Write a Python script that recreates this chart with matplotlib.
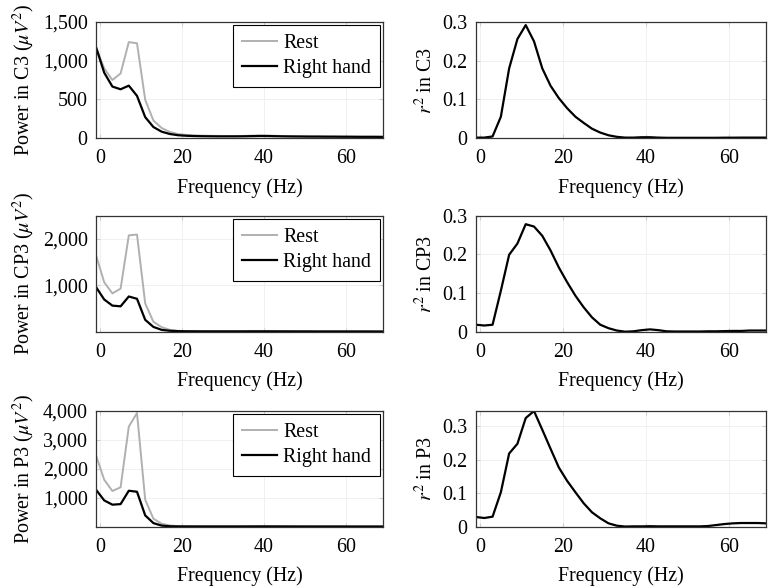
import matplotlib
matplotlib.use("Agg")
import matplotlib.pyplot as plt
from matplotlib.ticker import FuncFormatter

plt.rcParams['font.family'] = ['Liberation Serif', 'DejaVu Serif']
plt.rcParams['mathtext.fontset'] = 'stix'
plt.rcParams['font.size'] = 14.4

freqs = [-1, 1, 3, 5, 7, 9, 11, 13, 15, 17, 19, 21, 23, 25, 27, 29, 31, 33,
         35, 37, 39, 41, 43, 45, 47, 49, 51, 53, 55, 57, 59, 61, 63, 65, 67, 69]

c3_rest = [1175, 900, 750, 835, 1240, 1225, 495, 227, 130, 78, 52, 40, 34, 30, 28, 27, 26, 26,
           27, 30, 33, 32, 28, 25, 23, 22, 21, 20, 20, 19, 19, 18, 18, 17, 17, 16]
c3_hand = [1175, 845, 665, 630, 677, 545, 270, 142, 82, 52, 36, 29, 25, 23, 22, 21, 21, 21,
           22, 24, 26, 25, 23, 21, 20, 19, 18, 18, 17, 17, 16, 16, 15, 15, 15, 14]
cp3_rest = [1650, 1065, 825, 928, 2076, 2094, 610, 215, 98, 40, 18, 12, 10, 9, 8, 8, 8, 8,
            8, 9, 10, 10, 9, 8, 7, 7, 7, 6, 6, 6, 6, 6, 5, 5, 5, 5]
cp3_hand = [963, 694, 562, 547, 759, 709, 256, 103, 40, 20, 12, 9, 8, 7, 7, 7, 7, 7,
            7, 8, 8, 8, 7, 7, 6, 6, 6, 5, 5, 5, 5, 5, 5, 5, 4, 4]
p3_rest = [2460, 1620, 1230, 1360, 3450, 3920, 931, 276, 103, 42, 20, 14, 12, 11, 10, 10, 10, 10,
           10, 11, 12, 12, 11, 10, 9, 9, 9, 8, 8, 8, 8, 8, 7, 7, 7, 7]
p3_hand = [1276, 907, 759, 779, 1240, 1205, 390, 124, 38, 15, 10, 9, 8, 8, 8, 8, 8, 8,
           8, 9, 10, 10, 9, 8, 8, 7, 7, 7, 7, 7, 7, 6, 6, 6, 6, 6]

r2_c3 = [0.001, 0.001, 0.004, 0.055, 0.180, 0.256, 0.292, 0.250, 0.180, 0.135, 0.103, 0.077,
         0.055, 0.039, 0.024, 0.014, 0.007, 0.003, 0.001, 0.001, 0.002, 0.002, 0.001, 0.0005,
         0.0005, 0.0005, 0.0005, 0.0005, 0.0005, 0.0005, 0.0008, 0.0008, 0.001, 0.001, 0.001, 0.001]
r2_cp3 = [0.018, 0.016, 0.018, 0.106, 0.199, 0.228, 0.278, 0.272, 0.248, 0.210, 0.166, 0.128,
          0.093, 0.063, 0.037, 0.018, 0.009, 0.003, 0.0, 0.001, 0.004, 0.006, 0.004, 0.001,
          0.0005, 0.0005, 0.0005, 0.0005, 0.001, 0.001, 0.0015, 0.002, 0.002, 0.003, 0.003, 0.003]
r2_p3 = [0.029, 0.026, 0.030, 0.103, 0.219, 0.248, 0.325, 0.346, 0.290, 0.233, 0.177, 0.137,
         0.103, 0.070, 0.043, 0.025, 0.010, 0.003, 0.0005, 0.001, 0.001, 0.0015, 0.001, 0.001,
         0.001, 0.001, 0.001, 0.001, 0.002, 0.005, 0.008, 0.010, 0.011, 0.011, 0.011, 0.010]

channels = ['C3', 'CP3', 'P3']
rest_series = [c3_rest, cp3_rest, p3_rest]
hand_series = [c3_hand, cp3_hand, p3_hand]
r2_series = [r2_c3, r2_cp3, r2_p3]
power_ylims = [(0, 1500), (0, 2500), (0, 4000)]
power_ticks = [[0, 500, 1000, 1500], [1000, 2000], [1000, 2000, 3000, 4000]]
r2_ylims = [(0, 0.3), (0, 0.3), (0, 0.347)]
r2_ticks = [[0, 0.1, 0.2, 0.3]] * 3
xticks = [0, 20, 40, 60]

W, H = 768, 587
fig = plt.figure(figsize=(W / 100, H / 100), dpi=100)

row_tops = [22, 215.7, 410.7]
row_h = 116
left_x, left_w = 96, 287
right_x, right_w = 476, 290

rest_color = '#b0b0b0'
spine_color = '#333333'


def style(ax):
    ax.set_xlim(-1, 69)
    ax.set_xticks(xticks)
    ax.grid(True, color='#f0f0f0', lw=0.7)
    ax.set_axisbelow(True)
    for s in ax.spines.values():
        s.set_color(spine_color)
        s.set_linewidth(0.9)
    ax.tick_params(direction='in', length=3, color='#d0d0d0', top=True, right=True,
                   labelsize=14.4)
    ax.tick_params(axis='x', pad=8)
    ax.tick_params(axis='y', pad=6)
    ax.set_xlabel('Frequency (Hz)', fontsize=14.4, labelpad=7)


thousands = FuncFormatter(lambda v, p: f'{v:,.0f}')
r2fmt = FuncFormatter(lambda v, p: '0' if abs(v) < 1e-9 else f'{v:.1f}')

for i, ch in enumerate(channels):
    top = row_tops[i]
    b = 1 - (top + row_h) / H
    h = row_h / H
    axl = fig.add_axes([left_x / W, b, left_w / W, h])
    axl.plot(freqs, rest_series[i], color=rest_color, lw=1.4, label='Rest')
    axl.plot(freqs, hand_series[i], color='black', lw=1.6, label='Right hand')
    axl.set_ylim(*power_ylims[i])
    axl.set_yticks(power_ticks[i])
    axl.yaxis.set_major_formatter(thousands)
    style(axl)
    axl.set_ylabel(f'Power in {ch} ($\\mu V^2$)', fontsize=14.4, labelpad=4)
    leg = axl.legend(loc='upper right', fontsize=14.4, fancybox=False, framealpha=1,
                     edgecolor='black', borderaxespad=0.15, handlelength=1.75,
                     handletextpad=0.3, labelspacing=0.3, borderpad=0.45)
    leg.get_frame().set_linewidth(0.8)

    axr = fig.add_axes([right_x / W, b, right_w / W, h])
    axr.plot(freqs, r2_series[i], color='black', lw=1.6)
    axr.set_ylim(*r2_ylims[i])
    axr.set_yticks(r2_ticks[i])
    axr.yaxis.set_major_formatter(r2fmt)
    style(axr)
    axr.set_ylabel(f'$r^2$ in {ch}', fontsize=14.4, labelpad=4)

fig.savefig('out.png', dpi=100)
